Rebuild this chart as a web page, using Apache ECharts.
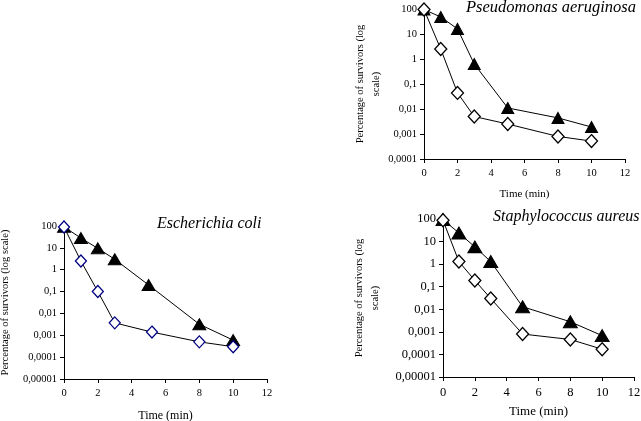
<!DOCTYPE html>
<html>
<head>
<meta charset="utf-8">
<script src="https://cdn.jsdelivr.net/npm/echarts@6/dist/echarts.min.js"></script>
<style>
html, body { margin: 0; padding: 0; background: #fff; }
#main { width: 641px; height: 421px; }
</style>
</head>
<body>
<div id="main"></div>
<script>
// time points (min)
var timePoints = [0, 1, 2, 3, 5, 8, 10];
var ecoliDiamondTimes = [0, 1, 2, 3, 5.2, 8, 10];

// percentage of survivors
var pseudoTriangle = [95, 48, 16, 0.63, 0.011, 0.0044, 0.0019];
var pseudoDiamond = [95, 2.5, 0.044, 0.005, 0.0025, 0.0008, 0.00052];
var ecoliTriangle = [92, 28, 9.5, 3, 0.2, 0.0032, 0.0006];
var ecoliDiamond = [90, 2.5, 0.1, 0.0037, 0.0014, 0.0005, 0.0003];
var staphTriangle = [95, 24, 5.8, 1.3, 0.013, 0.0028, 0.00068];
var staphDiamond = [88, 1.3, 0.19, 0.03, 0.0008, 0.00046, 0.00017];

var yTickLabels = {
    '2': '100', '1': '10', '0': '1', '-1': '0,1', '-2': '0,01',
    '-3': '0,001', '-4': '0,0001', '-5': '0,00001'
};
var titles = ['Pseudomonas aeruginosa', 'Escherichia coli', 'Staphylococcus aureus'];
var xName = 'Time (min)';

function pairs(xs, ys) {
    return xs.map(function (x, i) { return [x, ys[i]]; });
}
function yFmt(v) {
    return yTickLabels[String(Math.round(Math.log10(v)))] || '';
}

var font = 'Liberation Serif';
// outerBoundsMode none: keep the plots where they are even if a label runs off the edge
var grids = [
    { left: 424, top: 9, width: 201, height: 150, outerBoundsMode: 'none' },
    { left: 64, top: 226, width: 203, height: 153, outerBoundsMode: 'none' },
    { left: 443, top: 219, width: 191, height: 158, outerBoundsMode: 'none' }
];
var fontSizes = [10.5, 10.5, 12.5];
var yMins = [0.0001, 0.00001, 0.00001];
var yNames = ['Percentage of survivors (log\nscale)', 'Percentage of survivors (log scale)', 'Percentage of survivors (log\nscale)'];
var yGaps = [40, 51, 60];
var xGaps = [30, 31, 28];
var xNameSizes = [11, 12, 13];

var xAxes = [], yAxes = [];
for (var i = 0; i < 3; i++) {
    xAxes.push({
        gridIndex: i, type: 'value', min: 0, max: 12, interval: 2,
        name: xName, nameLocation: 'middle', nameGap: xGaps[i],
        nameTextStyle: { fontFamily: font, fontSize: xNameSizes[i], color: '#000' },
        axisLine: { lineStyle: { color: '#000', width: 1 } },
        axisTick: { length: 4, lineStyle: { color: '#000' } },
        axisLabel: { fontFamily: font, fontSize: fontSizes[i], color: '#000', margin: 9 },
        splitLine: { show: false }
    });
    yAxes.push({
        gridIndex: i, type: 'log', logBase: 10, min: yMins[i], max: 100,
        name: yNames[i], nameLocation: 'middle', nameRotate: 90, nameGap: yGaps[i],
        nameTextStyle: { fontFamily: font, fontSize: 10.5, color: '#000', lineHeight: 16 },
        axisLine: { show: true, lineStyle: { color: '#000', width: 1 } },
        axisTick: { show: true, length: 4, lineStyle: { color: '#000' } },
        axisLabel: { fontFamily: font, fontSize: fontSizes[i], color: '#000', margin: 7, formatter: yFmt },
        splitLine: { show: false }
    });
}

function triSeries(idx, data, size) {
    return {
        type: 'line', xAxisIndex: idx, yAxisIndex: idx, data: data,
        symbol: 'triangle', symbolSize: size,
        lineStyle: { color: '#000', width: 1 },
        itemStyle: { color: '#000', borderColor: '#000', borderWidth: 1 },
        z: 2, animation: false
    };
}
function diaSeries(idx, data, size, edge) {
    return {
        type: 'line', xAxisIndex: idx, yAxisIndex: idx, data: data,
        symbol: 'diamond', symbolSize: size,
        lineStyle: { color: '#000', width: 1 },
        itemStyle: { color: '#fff', borderColor: edge, borderWidth: 1.3 },
        z: 3, animation: false
    };
}

var chart = echarts.init(document.getElementById('main'));
chart.setOption({
    backgroundColor: '#fff',
    animation: false,
    title: [
        { text: titles[0], left: 466, top: -1, padding: 0,
          textStyle: { fontFamily: font, fontStyle: 'italic', fontWeight: 'normal', fontSize: 16.5, color: '#000' } },
        { text: titles[1], left: 157, top: 216, padding: 0,
          textStyle: { fontFamily: font, fontStyle: 'italic', fontWeight: 'normal', fontSize: 16, color: '#000' } },
        { text: titles[2], left: 493, top: 209, padding: 0,
          textStyle: { fontFamily: font, fontStyle: 'italic', fontWeight: 'normal', fontSize: 16, color: '#000' } }
    ],
    grid: grids,
    xAxis: xAxes,
    yAxis: yAxes,
    series: [
        triSeries(0, pairs(timePoints, pseudoTriangle), [12, 11]),
        diaSeries(0, pairs(timePoints, pseudoDiamond), [12, 13], '#000'),
        triSeries(1, pairs(timePoints, ecoliTriangle), [13, 11]),
        diaSeries(1, pairs(ecoliDiamondTimes, ecoliDiamond), [11, 12], '#000080'),
        triSeries(2, pairs(timePoints, staphTriangle), [14, 12]),
        diaSeries(2, pairs(timePoints, staphDiamond), [12, 13], '#000')
    ]
});
</script>
</body>
</html>
